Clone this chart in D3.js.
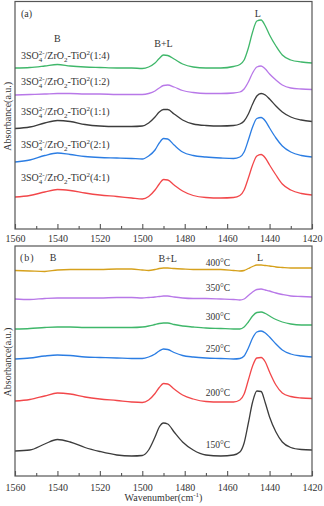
<!DOCTYPE html>
<html>
<head>
<meta charset="utf-8">
<script src="https://cdn.jsdelivr.net/npm/d3@7"></script>
<style>
  body { margin: 0; background: #fff; }
  text { font-family: "Liberation Serif", "Times New Roman", serif; fill: #333; }
</style>
</head>
<body>
<div id="container"></div>
<script>
const width = 324, height = 506;

// wavenumber grid (cm-1) shared by every spectrum
const wavenumbers = [1560,1553,1546,1540,1534,1527,1520,1512,1505,1500,1497,1494,1492,1490,1488,1485,1481,1476,1470,1463,1457,1454,1452,1450,1448,1446,1444,1442,1440,1437,1434,1430,1425,1420];

// panel (a): Si/Zr-Ti ratio series, stacked absorbance (a.u.)
const ratioLabels = ["1:4", "1:2", "1:1", "2:1", "4:1"];
const ratio14 = [1.61,1.615,1.63,1.645,1.63,1.62,1.615,1.61,1.61,1.605,1.62,1.66,1.705,1.74,1.735,1.70,1.65,1.62,1.61,1.61,1.625,1.645,1.69,1.81,1.97,2.08,2.09,2.03,1.94,1.83,1.74,1.69,1.67,1.66];
const ratio12 = [1.34,1.345,1.35,1.355,1.355,1.35,1.35,1.345,1.345,1.345,1.355,1.38,1.41,1.435,1.44,1.42,1.385,1.365,1.355,1.355,1.36,1.37,1.40,1.47,1.56,1.62,1.63,1.60,1.55,1.49,1.44,1.41,1.40,1.395];
const ratio11 = [1.005,1.02,1.06,1.085,1.075,1.045,1.03,1.025,1.025,1.03,1.06,1.12,1.17,1.195,1.195,1.15,1.09,1.05,1.035,1.03,1.035,1.05,1.08,1.15,1.25,1.33,1.355,1.34,1.30,1.23,1.17,1.12,1.09,1.075];
const ratio21 = [0.67,0.69,0.735,0.76,0.745,0.725,0.715,0.71,0.705,0.70,0.73,0.79,0.86,0.905,0.90,0.84,0.77,0.735,0.72,0.71,0.705,0.72,0.77,0.89,1.02,1.105,1.115,1.08,1.01,0.91,0.83,0.77,0.735,0.72];
const ratio41 = [0.32,0.335,0.37,0.395,0.385,0.36,0.34,0.325,0.31,0.30,0.325,0.39,0.45,0.495,0.49,0.44,0.38,0.335,0.315,0.31,0.315,0.335,0.39,0.51,0.64,0.73,0.745,0.71,0.64,0.54,0.45,0.39,0.355,0.34];

// panel (b): desorption temperature series, stacked absorbance (a.u.)
const tempLabels = ["400°C", "350°C", "300°C", "250°C", "200°C", "150°C"];
const t400 = [2.055,2.05,2.045,2.06,2.065,2.065,2.065,2.07,2.07,2.06,2.055,2.065,2.075,2.08,2.08,2.075,2.07,2.065,2.065,2.065,2.055,2.05,2.055,2.075,2.095,2.11,2.11,2.105,2.10,2.09,2.085,2.08,2.08,2.08];
const t350 = [1.77,1.765,1.775,1.78,1.78,1.78,1.78,1.785,1.785,1.78,1.785,1.79,1.795,1.80,1.80,1.79,1.78,1.775,1.775,1.77,1.765,1.76,1.77,1.805,1.84,1.865,1.87,1.86,1.85,1.83,1.815,1.80,1.795,1.79];
const t300 = [1.47,1.475,1.485,1.49,1.49,1.485,1.485,1.485,1.485,1.49,1.50,1.515,1.525,1.53,1.53,1.515,1.50,1.49,1.48,1.475,1.47,1.47,1.49,1.54,1.60,1.635,1.64,1.625,1.60,1.565,1.54,1.52,1.51,1.51];
const t250 = [1.17,1.18,1.20,1.21,1.205,1.19,1.185,1.18,1.175,1.175,1.19,1.22,1.25,1.27,1.265,1.235,1.205,1.19,1.18,1.175,1.17,1.175,1.20,1.28,1.38,1.44,1.45,1.43,1.39,1.32,1.26,1.22,1.20,1.19];
const t200 = [0.75,0.765,0.80,0.83,0.82,0.79,0.77,0.755,0.74,0.735,0.76,0.825,0.885,0.925,0.92,0.87,0.81,0.77,0.745,0.74,0.74,0.76,0.82,0.96,1.10,1.18,1.185,1.14,1.04,0.91,0.83,0.795,0.78,0.775];
const t150 = [0.25,0.26,0.32,0.365,0.34,0.285,0.245,0.21,0.20,0.205,0.26,0.39,0.49,0.53,0.52,0.44,0.34,0.26,0.21,0.20,0.21,0.24,0.33,0.53,0.74,0.85,0.845,0.73,0.59,0.44,0.34,0.285,0.265,0.26];

const xTicks = [1560,1540,1520,1500,1480,1460,1440,1420];
const xMinorTicks = [1550,1530,1510,1490,1470,1450,1430];

const colA = ["#3fb76a", "#b878e8", "#3c3c3c", "#2b7de3", "#f2474a"];
const colB = ["#d6a11c", "#b878e8", "#3fb76a", "#2b7de3", "#f2474a", "#3c3c3c"];

const svg = d3.select("#container").append("svg")
    .attr("width", width)
    .attr("height", height)
    .style("background", "#fff");

const left = 15, right = 312;
const x = d3.scaleLinear().domain([1560, 1420]).range([left, right]);

function drawPanel(top, bottom, yMax, series, colors, labelPad) {
    const y = d3.scaleLinear().domain([0, yMax]).range([bottom, top]);
    const g = svg.append("g");

    const line = d3.line()
        .x((d, i) => x(wavenumbers[i]))
        .y(d => y(d))
        .curve(d3.curveMonotoneX);

    series.forEach((s, i) => {
        g.append("path")
            .attr("d", line(s))
            .attr("fill", "none")
            .attr("stroke", colors[i])
            .attr("stroke-width", 1.3);
    });

    // frame
    g.append("rect")
        .attr("x", left).attr("y", top)
        .attr("width", right - left).attr("height", bottom - top)
        .attr("fill", "none").attr("stroke", "#555").attr("stroke-width", 1.2);

    // ticks point inward
    const ax = g.append("g")
        .attr("transform", `translate(0,${bottom})`)
        .call(d3.axisBottom(x).tickValues(xTicks).tickFormat(d3.format("d"))
            .tickSizeInner(-5).tickSizeOuter(0).tickPadding(labelPad));
    ax.select(".domain").remove();
    ax.selectAll("line").attr("stroke", "#555").attr("stroke-width", 1.1);
    ax.selectAll("text").style("font-family", "Liberation Serif").style("font-size", "10px").attr("fill", "#333");

    const mx = g.append("g")
        .attr("transform", `translate(0,${bottom})`)
        .call(d3.axisBottom(x).tickValues(xMinorTicks).tickFormat("")
            .tickSizeInner(-3).tickSizeOuter(0));
    mx.select(".domain").remove();
    mx.selectAll("line").attr("stroke", "#555").attr("stroke-width", 1.1);

    svg.append("text")
        .attr("transform", `translate(7,${(top + bottom) / 2 + 1}) rotate(-90)`)
        .attr("text-anchor", "middle")
        .attr("dy", "0.35em")
        .style("font-size", "10px")
        .text("Absorbance(a.u.)");
    return y;
}

function note(px, py, str, size, anchor) {
    return svg.append("text")
        .attr("x", px).attr("y", py)
        .attr("text-anchor", anchor || "middle")
        .style("font-size", (size || 10) + "px")
        .text(str);
}

// ---------- panel (a)
drawPanel(1.5, 229, 2.275, [ratio14, ratio12, ratio11, ratio21, ratio41], colA, 6);

note(21, 17, "(a)", 10, "start");
note(x(1540), 41.5, "B");
note(x(1490), 46.5, "B+L");
note(x(1445.5), 16.5, "L");

const labelYA = [58.5, 84.5, 114.5, 147.5, 180.5];
ratioLabels.forEach((r, i) => {
    const t = svg.append("text").attr("x", 21).attr("y", labelYA[i]).style("font-size", "10px");
    t.append("tspan").text("3SO");
    t.append("tspan").attr("dy", 3).style("font-size", "7px").text("4");
    t.append("tspan").attr("dx", -3.6).attr("dy", -7).style("font-size", "7px").text("2-");
    t.append("tspan").attr("dy", 4).text("/ZrO");
    t.append("tspan").attr("dy", 3).style("font-size", "7px").text("2");
    t.append("tspan").attr("dy", -3).text("-TiO");
    t.append("tspan").attr("dy", -4).style("font-size", "7px").text("2");
    t.append("tspan").attr("dy", 4).text("(" + r + ")");
});

// ---------- panel (b)
drawPanel(246, 476, 2.30, [t400, t350, t300, t250, t200, t150], colB, 7.5);

note(20, 260.5, "(b)", 10, "start").attr("letter-spacing", "1px");
note(x(1542), 261, "B");
note(x(1488), 262, "B+L");
note(x(1444.5), 260.5, "L");

const labelYB = [266, 290.5, 319.5, 351.5, 395.5, 447.5];
tempLabels.forEach((s, i) => note(218, labelYB[i], s, 9.5));

const xl = svg.append("text")
    .attr("x", (left + right) / 2).attr("y", 500.5)
    .attr("text-anchor", "middle")
    .style("font-size", "10px");
xl.append("tspan").text("Wavenumber(cm");
xl.append("tspan").attr("dy", -4).style("font-size", "7px").text("-1");
xl.append("tspan").attr("dy", 4).text(")");
</script>
</body>
</html>
